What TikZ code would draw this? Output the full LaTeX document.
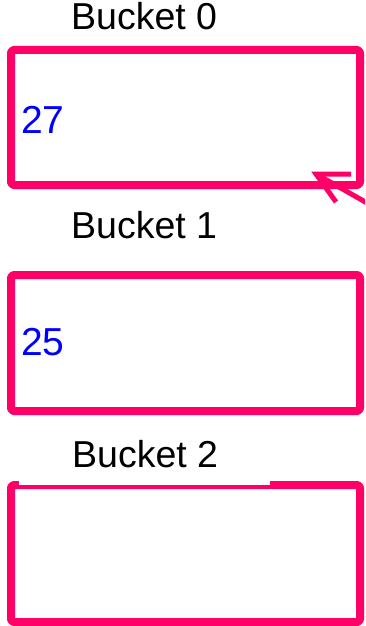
\documentclass[tikz,border=0pt]{standalone}
\usepackage{fontspec}
\setmainfont{Liberation Sans}
\definecolor{bpink}{HTML}{FF0066}
\definecolor{bblue}{HTML}{0000FF}
\tikzset{
  bucketbox/.style={draw=bpink, line width=8pt, rounded corners=3pt, line join=round},
  bucketlabel/.style={anchor=base west, inner sep=0pt, font=\fontsize{37.5}{42}\selectfont, text=black},
  numlabel/.style={anchor=base west, inner sep=0pt, font=\fontsize{39}{44}\selectfont, text=bblue},
  arrowline/.style={draw=bpink, line width=5pt}
}
\begin{document}
\begin{tikzpicture}[x=1pt,y=-1pt]
\useasboundingbox (0,0) rectangle (365,626);
\clip (0,0) rectangle (365,626);
% boxes
\draw[bucketbox] (11,50) rectangle (360,185);
\draw[bucketbox] (11,275) rectangle (360,411);
\draw[bucketbox] (11,485) rectangle (360,622);
\fill[white] (19,480) rectangle (270,485);
% labels
\node[bucketlabel] (l0) at (71,30) {Bucket 0};
\node[bucketlabel] (l1) at (71,238) {Bucket 1};
\node[bucketlabel] (l2) at (72,467) {Bucket 2};
\node[numlabel] (n0) at (21,133) {27};
\node[numlabel] (n1) at (21,355) {25};
% arrow
\coordinate (tip) at (316,174);
\coordinate (tail) at (390,216);
\coordinate (barbA) at (351,174);
\coordinate (barbB) at (336,202);
\draw[arrowline] (tail) -- (tip);
\draw[arrowline] (barbA) -- (tip) -- (barbB);
\end{tikzpicture}
\end{document}
